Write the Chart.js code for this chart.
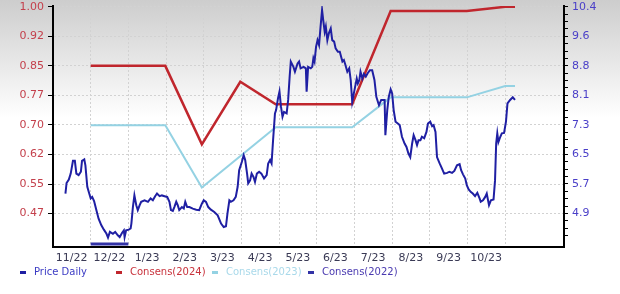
<!DOCTYPE html>
<html>
<head>
<meta charset="utf-8">
<script src="https://cdn.jsdelivr.net/npm/chart.js@4.4.0/dist/chart.umd.min.js"></script>
<style>
  html, body { margin: 0; padding: 0; background: #fff; }
  #wrap { position: relative; width: 620px; height: 294px; }
  #legend { position: absolute; left: 0; top: 266px; width: 620px; height: 14px; font: 10px "DejaVu Sans", sans-serif; }
  .item { position: absolute; top: 0; white-space: nowrap; line-height: 12px; }
  .item i { position: absolute; left: 0; top: 5px; width: 6px; height: 3px; }
  .item span { position: absolute; left: 14px; top: 0; }
</style>
</head>
<body>
<div id="wrap">
  <canvas id="grafico" width="620" height="294"></canvas>
  <div id="legend"></div>
</div>
<script>
// Datos (x = meses desde 1 nov 2022)
const meses = ['11/22', '12/22', '1/23', '2/23', '3/23', '4/23', '5/23', '6/23', '7/23', '8/23', '9/23', '10/23'];

const precioT = [0.33,0.36,0.42,0.47,0.53,0.58,0.62,0.68,0.74,0.77,0.83,0.86,0.91,0.95,1.00,1.04,1.09,1.15,1.21,1.28,
  1.35,1.42,1.46,1.51,1.59,1.65,1.72,1.77,1.83,1.88,1.90,1.94,2.01,2.06,2.08,2.12,2.16,2.21,2.25,2.30,
  2.34,2.43,2.52,2.59,2.65,2.71,2.76,2.83,2.89,2.96,3.03,3.09,3.13,3.18,3.22,3.27,3.31,3.35,3.42,3.47,
  3.51,3.56,3.62,3.71,3.80,3.88,3.95,4.00,4.06,4.12,4.19,4.28,4.37,4.46,4.53,4.59,4.63,4.68,4.72,4.79,
  4.85,4.90,4.94,5.01,5.06,5.10,5.15,5.18,5.23,5.27,5.32,5.36,5.41,5.47,5.53,5.60,5.67,5.71,5.76,5.80,
  5.84,5.89,5.92,5.97,6.01,6.05,6.09,6.13,6.20,6.24,6.28,6.31,6.38,6.42,6.49,6.53,6.57,6.65,6.71,6.73,
  6.77,6.84,6.88,6.91,6.94,6.98,7.02,7.06,7.10,7.14,7.17,7.21,7.24,7.28,7.32,7.37,7.41,7.46,7.50,7.56,
  7.61,7.68,7.72,7.76,7.81,7.86,7.90,7.94,8.00,8.06,8.09,8.13,8.16,8.21,8.25,8.30,8.35,8.41,8.47,8.53,
  8.58,8.65,8.71,8.76,8.80,8.82,8.87,8.91,8.96,9.00,9.04,9.09,9.15,9.20,9.26,9.33,9.38,9.43,9.48,9.53,
  9.57,9.62,9.66,9.70,9.75,9.79,9.85,9.91,9.95,10.01,10.06,10.10,10.15,10.19,10.26,10.32,10.38,10.46,10.52,10.59,
  10.65,10.72,10.79,10.83,10.88,10.94,10.98,11.03,11.09,11.14,11.20,11.26,11.32,11.35,11.41,11.47,11.51,11.57,11.62,11.69,
  11.73,11.76,11.79,11.82,11.87,11.91,11.97,12.02,12.06,12.13,12.20,12.26];

const precioDiario = [5.43,5.71,5.80,5.96,6.30,6.30,5.96,5.92,6.01,6.30,6.34,6.18,5.61,5.47,5.30,5.34,5.23,4.99,4.76,4.59,
  4.47,4.36,4.26,4.41,4.36,4.41,4.32,4.27,4.38,4.45,4.27,4.45,4.47,4.50,4.63,5.07,5.38,5.12,4.99,5.12,
  5.21,5.25,5.21,5.30,5.25,5.36,5.43,5.36,5.38,5.36,5.34,5.21,4.99,4.97,5.07,5.21,5.12,4.99,5.07,5.03,
  5.21,5.07,5.07,5.03,5.00,4.99,5.16,5.25,5.21,5.07,5.00,4.94,4.85,4.63,4.54,4.56,4.90,5.25,5.21,5.25,
  5.34,5.61,6.05,6.27,6.45,6.32,5.96,5.70,5.78,5.96,5.87,5.74,5.96,6.01,5.96,5.83,5.92,6.23,6.32,6.23,
  6.85,7.56,7.65,7.96,8.14,7.74,7.47,7.60,7.56,7.92,8.54,8.94,8.80,8.67,8.89,8.94,8.76,8.80,8.76,8.14,
  8.80,8.76,8.80,9.03,8.94,9.33,9.51,9.38,9.87,10.31,10.05,9.73,9.87,9.51,9.69,9.82,9.51,9.47,9.29,9.20,
  9.20,8.94,8.98,8.85,8.67,8.76,8.45,7.87,8.18,8.49,8.36,8.45,8.67,8.49,8.61,8.54,8.63,8.71,8.71,8.45,
  8.00,7.78,7.92,7.92,7.92,6.98,7.65,8.00,8.20,8.09,7.65,7.34,7.29,7.25,6.94,6.76,6.67,6.50,6.40,6.76,
  6.98,6.85,6.72,6.85,6.85,6.94,6.90,7.07,7.29,7.34,7.22,7.25,7.07,6.40,6.23,6.10,5.96,5.98,6.01,5.98,
  6.03,6.18,6.21,6.05,5.94,5.83,5.65,5.54,5.47,5.43,5.36,5.45,5.30,5.21,5.25,5.34,5.43,5.12,5.25,5.27,
  5.78,6.76,7.03,6.80,6.94,7.03,7.04,7.34,7.83,7.92,7.99,7.92];

const cons2024T = [1.00, 2.98, 3.95, 4.97, 5.91, 7.94, 8.96, 10.98, 12.00, 12.26];
const cons2024 = [0.848, 0.848, 0.646, 0.807, 0.749, 0.749, 0.989, 0.989, 1.00, 1.00];

const cons2023T = [1.00, 2.98, 3.95, 5.91, 7.94, 8.96, 10.98, 12.00, 12.26];
const cons2023 = [0.695, 0.695, 0.535, 0.69, 0.69, 0.767, 0.767, 0.796, 0.796];

const cons2022T = [1.00, 2.00];
const cons2022 = [0.39, 0.39];

const ticksIzq = [1.00, 0.924, 0.848, 0.772, 0.696, 0.620, 0.544, 0.468];
const etiquetasIzq = ['1.00', '0.92', '0.85', '0.77', '0.70', '0.62', '0.55', '0.47'];
const ticksDer = [10.4, 9.614, 8.829, 8.043, 7.257, 6.471, 5.686, 4.9];
const etiquetasDer = ['10.4', '9.6', '8.8', '8.1', '7.3', '6.5', '5.7', '4.9'];

const series = [
  { label: 'Price Daily', color: '#1f1fa3', text: '#3b3bc4' },
  { label: 'Consens(2024)', color: '#c0262d', text: '#c8323c' },
  { label: 'Consens(2023)', color: '#94d2e3', text: '#a9d9ea' },
  { label: 'Consens(2022)', color: '#3232a6', text: '#4a3ab0' }
];

const pares = (xs, ys) => xs.map((x, i) => ({ x: x, y: ys[i] }));

// fondo degradado gris
const fondo = {
  id: 'fondo',
  beforeDraw(chart) {
    const c = chart.ctx;
    const g = c.createLinearGradient(0, 0, 0, 118);
    g.addColorStop(0, '#cdcdcd');
    g.addColorStop(1, '#ffffff');
    c.save();
    c.fillStyle = '#ffffff';
    c.fillRect(0, 0, chart.width, chart.height);
    c.fillStyle = g;
    c.fillRect(0, 0, chart.width, 118);
    c.restore();
  }
};

const fuente = { family: 'DejaVu Sans', size: 11 };

// quitar el relleno automático que Chart.js deja para las etiquetas extremas
const sinRelleno = (s, ancho) => {
  s.width = ancho;
  s.paddingTop = 0;
  s.paddingBottom = 0;
};

const ctx = document.getElementById('grafico').getContext('2d');
const chart = new Chart(ctx, {
  type: 'line',
  data: {
    datasets: [
      { label: series[0].label, data: pares(precioT, precioDiario), yAxisID: 'yDer',
        borderColor: series[0].color, borderWidth: 2, pointRadius: 0, tension: 0, order: 0 },
      { label: series[1].label, data: pares(cons2024T, cons2024), yAxisID: 'yIzq',
        borderColor: series[1].color, borderWidth: 2.5, pointRadius: 0, tension: 0, order: 1 },
      { label: series[2].label, data: pares(cons2023T, cons2023), yAxisID: 'yIzq',
        borderColor: series[2].color, borderWidth: 2, pointRadius: 0, tension: 0, order: 2 },
      { label: series[3].label, data: pares(cons2022T, cons2022), yAxisID: 'yIzq',
        borderColor: series[3].color, borderWidth: 3, pointRadius: 0, tension: 0, order: 3 }
    ]
  },
  options: {
    responsive: false,
    animation: false,
    layout: { padding: { top: 6, left: 0, right: 0, bottom: 0 } },
    plugins: { legend: { display: false }, tooltip: { enabled: false } },
    scales: {
      x: {
        type: 'linear',
        min: 0,
        max: 13.56,
        afterBuildTicks: s => { s.ticks = meses.map((m, i) => ({ value: i + 1, lbl: m })); },
        afterFit: s => { s.height = 47; s.paddingLeft = 0; s.paddingRight = 0; },
        ticks: {
          autoSkip: false,
          maxRotation: 0,
          labelOffset: -19,
          padding: 5,
          color: '#3a3a55',
          font: fuente,
          callback: (v, i, t) => t[i].lbl
        },
        grid: { color: '#d2d2d2', drawTicks: false },
        border: { color: '#000', width: 2, dash: [2, 2] }
      },
      yIzq: {
        position: 'left',
        min: 0.382,
        max: 1.002,
        afterBuildTicks: s => { s.ticks = ticksIzq.map((v, i) => ({ value: v, lbl: etiquetasIzq[i] })); },
        afterFit: s => sinRelleno(s, 53),
        ticks: { color: '#c4404c', font: fuente, padding: 4, callback: (v, i, t) => t[i].lbl },
        grid: { color: '#d2d2d2', tickColor: '#000', tickLength: 5 },
        border: { color: '#000', width: 2, dash: [2, 2] }
      },
      yDer: {
        position: 'right',
        min: 4.008,
        max: 10.418,
        afterBuildTicks: s => {
          const paso = (ticksDer[0] - ticksDer[1]) / 4;
          const lista = [];
          ticksDer.forEach((v, i) => {
            lista.push({ value: v, lbl: etiquetasDer[i] });
            for (let k = 1; k < 4; k++) lista.push({ value: v - k * paso, lbl: '' });
          });
          s.ticks = lista.filter(t => t.value > s.min);
        },
        afterFit: s => sinRelleno(s, 56),
        ticks: { color: '#4a3fc8', font: fuente, padding: 4, autoSkip: false, callback: (v, i, t) => t[i].lbl },
        grid: { drawOnChartArea: false, tickColor: '#000', tickLength: 4 },
        border: { color: '#000', width: 2 }
      }
    }
  },
  plugins: [fondo]
});

// leyenda en HTML con columnas fijas
const leyenda = document.getElementById('legend');
series.forEach((s, i) => {
  const d = document.createElement('div');
  d.className = 'item';
  d.style.left = (20 + i * 96) + 'px';
  d.innerHTML = '<i style="background:' + s.color + '"></i><span style="color:' + s.text + '">' + s.label + '</span>';
  leyenda.appendChild(d);
});
</script>
</body>
</html>
